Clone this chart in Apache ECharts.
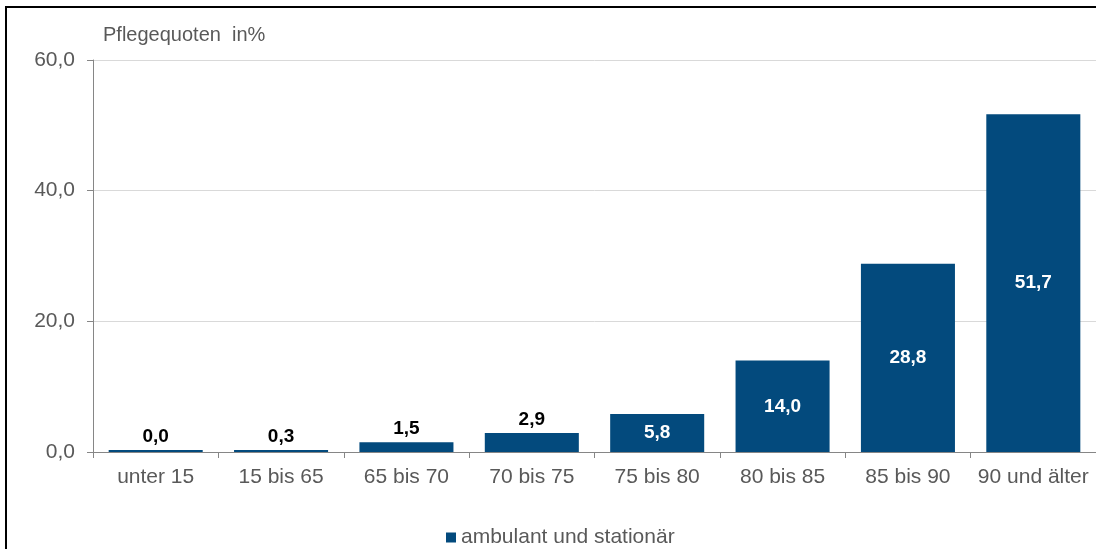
<!DOCTYPE html>
<html><head><meta charset="utf-8">
<script src="https://cdn.jsdelivr.net/npm/echarts@6/dist/echarts.min.js"></script>
<style>html,body{margin:0;padding:0;background:#fff}#c{width:1096px;height:549px}</style>
</head><body><div id="c"></div>
<script>
const categories = ['unter 15','15 bis 65','65 bis 70','70 bis 75','75 bis 80','80 bis 85','85 bis 90','90 und älter'];
const values = [0.0, 0.3, 1.5, 2.9, 5.8, 14.0, 28.8, 51.7];
const yTicks = [0, 20, 40, 60];
const seriesName = 'ambulant und stationär';
const axisTitle = 'Pflegequoten  in%';

const fmt = v => v.toFixed(1).replace('.', ',');
const FONT = '"Liberation Sans", Arial, sans-serif';
const BAR = '#034A7D';

const chart = echarts.init(document.getElementById('c'), null, {renderer:'canvas'});
chart.setOption({
  animation:false,
  textStyle:{fontFamily:FONT},
  graphic:[
    {type:'rect', shape:{x:6, y:7, width:1300, height:800}, style:{fill:'none', stroke:'#000', lineWidth:2}, z:100},
    {type:'text', left:103, top:25, style:{text:axisTitle, font:'20px ' + FONT, fill:'#595959'}}
  ],
  grid:{left:93, top:60, width:1006, height:392, containLabel:false},
  legend:{
    data:[seriesName], left:441, top:522, itemWidth:10, itemHeight:10, itemGap:4,
    icon:'rect',
    textStyle:{fontSize:21, color:'#595959', fontFamily:FONT, padding:[0,0,0,0]}
  },
  xAxis:{
    type:'category', data:categories, boundaryGap:true,
    axisLine:{lineStyle:{color:'#868686', width:1}},
    axisTick:{show:true, length:6, lineStyle:{color:'#868686'}},
    axisLabel:{fontSize:21, color:'#595959', margin:15, fontFamily:FONT, interval:0}
  },
  yAxis:{
    type:'value', min:yTicks[0], max:yTicks[yTicks.length-1], interval:20,
    axisLine:{show:true, lineStyle:{color:'#868686'}},
    axisTick:{show:true, length:6, lineStyle:{color:'#868686'}},
    splitLine:{lineStyle:{color:'#D9D9D9'}},
    axisLabel:{fontSize:21, color:'#595959', margin:18, fontFamily:FONT, formatter:v=>fmt(v)}
  },
  series:[{
    name:seriesName, type:'bar', barCategoryGap:'25%', barMinHeight:2,
    itemStyle:{color:BAR},
    data: values.map(v => ({
      value:v,
      label: v >= 5
        ? {show:true, position:'inside', color:'#fff'}
        : {show:true, position:'top', distance:4, color:'#000'}
    })),
    label:{show:true, fontSize:19, fontWeight:'bold', fontFamily:FONT, formatter:p=>fmt(p.value)}
  }]
});
</script></body></html>
